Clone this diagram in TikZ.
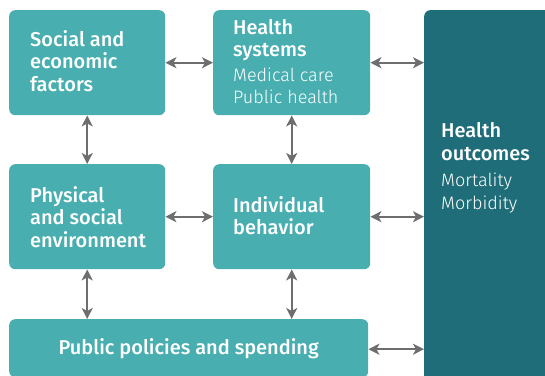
\documentclass[tikz,border=0pt]{standalone}
\usepackage{fontspec}
\setmainfont{Fira Sans}[BoldFont={Fira Sans Medium}]
\newfontfamily\lightfont{Fira Sans Light}
\usetikzlibrary{arrows.meta}
\definecolor{tealbox}{HTML}{48AEB0}
\definecolor{tealdark}{HTML}{1F6D78}
\definecolor{arrowgray}{HTML}{6E6E6E}
\tikzset{
  box/.style={fill=tealbox, draw=none, rounded corners=6pt, inner sep=0pt, anchor=north west},
  outbox/.style={fill=tealdark, draw=none, rounded corners=6pt, inner sep=0pt, anchor=north west},
  title/.style={text=white, align=left, inner sep=0pt, font=\bfseries\fontsize{20}{22.5}\selectfont},
  link/.style={draw=arrowgray, line width=2.2pt, {Stealth[length=11pt,width=11pt,inset=3pt]}-{Stealth[length=11pt,width=11pt,inset=3pt]}}
}
\newcommand{\subtext}{\lightfont\mdseries\fontsize{18}{21}\selectfont}
\begin{document}
\begin{tikzpicture}[x=1pt,y=-1pt]
  \useasboundingbox (0,0) rectangle (545,375);
  \clip (0,0) rectangle (545,375);
  % determinant boxes
  \node[box, minimum width=156pt, minimum height=105pt] (soc) at (9,10) {};
  \node[box, minimum width=157pt, minimum height=105pt] (hs) at (213,10) {};
  \node[box, minimum width=156pt, minimum height=105pt] (env) at (9,164) {};
  \node[box, minimum width=157pt, minimum height=105pt] (beh) at (213,164) {};
  \node[box, minimum width=359pt, minimum height=58pt] (pol) at (9,319) {};
  % outcome panel, running off the right and bottom edges
  \node[outbox, minimum width=140pt, minimum height=380pt] (out) at (424,10) {};
  % labels
  \node[title, anchor=west] (socT) at ([xshift=21pt,yshift=2pt]soc.west) {Social and\\economic\\factors};
  \node[title, anchor=west] (hsT) at ([xshift=20pt,yshift=1pt]hs.west) {Health\\systems\\[2pt]{\subtext Medical care}\\{\subtext Public health}};
  \node[title, anchor=west] (envT) at ([xshift=21pt]env.west) {Physical\\and social\\environment};
  \node[title, anchor=west] (behT) at ([xshift=20pt,yshift=1pt]beh.west) {Individual\\behavior};
  \node[title] (polT) at ([yshift=-1pt]pol.center) {Public policies and spending};
  \node[title, anchor=west] (outT) at (441,168) {Health\\outcomes\\[4pt]{\subtext Mortality}\\{\subtext Morbidity}};
  % connectors
  \draw[link] (soc) -- (hs);
  \draw[link] (env) -- (beh);
  \draw[link] (soc) -- (env);
  \draw[link] (hs) -- (beh);
  \draw[link] (env.south) -- (env.south |- pol.north);
  \draw[link] (beh.south) -- (beh.south |- pol.north);
  \draw[link] (hs.east) -- (hs.east -| out.west);
  \draw[link] (beh.east) -- (beh.east -| out.west);
  \draw[link] ([yshift=-1pt]pol.east) -- ([yshift=-1pt]pol.east -| out.west);
\end{tikzpicture}
\end{document}
